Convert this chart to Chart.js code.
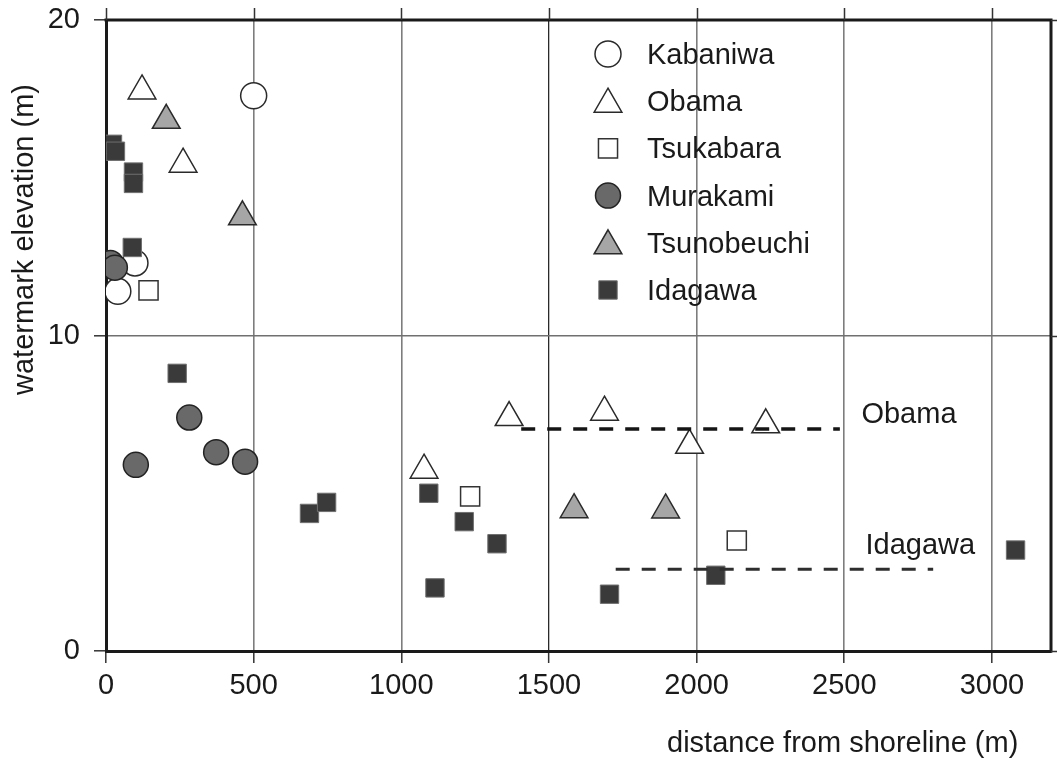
<!DOCTYPE html>
<html>
<head>
<meta charset="utf-8">
<script src="https://cdn.jsdelivr.net/npm/chart.js@4.4.1/dist/chart.umd.min.js"></script>
<style>
  html, body { margin: 0; padding: 0; background: #fff; }
</style>
</head>
<body>
<canvas id="myChart" width="1057" height="761"></canvas>
<script>
// values: x = distance from shoreline (m), y = watermark elevation (m)
var kabaniwaX = [500, 98, 40];
var kabaniwaY = [17.6, 12.3, 11.4];

var obamaX = [122, 261, 1077, 1365, 1688, 1976, 2234];
var obamaY = [17.75, 15.43, 5.73, 7.4, 7.57, 6.52, 7.17];

var tsukabaraX = [144, 1233, 2136];
var tsukabaraY = [11.43, 4.9, 3.5];

var murakamiX = [15, 30, 101, 282, 373, 471];
var murakamiY = [12.3, 12.15, 5.9, 7.4, 6.3, 6.0];

var tsunobeuchiX = [204, 462, 1585, 1895];
var tsunobeuchiY = [16.82, 13.76, 4.48, 4.47];

var idagawaX = [22, 32, 93, 93, 89, 241, 689, 747, 1093, 1213, 1324, 1114, 1705, 2065, 3080];
var idagawaY = [16.06, 15.84, 15.18, 14.82, 12.79, 8.8, 4.36, 4.71, 5.0, 4.1, 3.4, 2.0, 1.8, 2.4, 3.2];

// dashed reference levels
var obamaLevelX = [1406, 2485];
var obamaLevelY = [7.04, 7.04];
var idagawaLevelX = [1726, 2801];
var idagawaLevelY = [2.59, 2.59];

var levelLabels = ["Obama", "Idagawa"];
var levelLabelX = [2558, 2572];
var levelLabelY = [7.47, 3.32];

var xTicks = [0, 500, 1000, 1500, 2000, 2500, 3000];
var yTicks = [0, 10, 20];

var legendNames = ["Kabaniwa", "Obama", "Tsukabara", "Murakami", "Tsunobeuchi", "Idagawa"];

var FONT = "'Liberation Sans', Arial, Helvetica, sans-serif";
var INK = "#1a1a1a";

function pts(xs, ys) {
  var out = [];
  for (var i = 0; i < xs.length; i++) out.push({ x: xs[i], y: ys[i] });
  return out;
}

function markers(label, xs, ys, style, r, fill, edge, bw) {
  return {
    label: label,
    data: pts(xs, ys),
    showLine: false,
    pointStyle: style,
    pointRadius: r,
    pointHoverRadius: r,
    pointBackgroundColor: fill,
    pointBorderColor: edge,
    pointBorderWidth: bw,
    pointHoverBorderWidth: bw
  };
}

function level(label, xs, ys, color, width) {
  return {
    label: label,
    data: pts(xs, ys),
    showLine: true,
    borderColor: color,
    borderWidth: width,
    borderDash: [14, 12],
    pointRadius: 0,
    pointHoverRadius: 0,
    fill: false
  };
}

// first dataset ends up on top
var datasets = [
  level("Obama level", obamaLevelX, obamaLevelY, "#151515", 3.5),
  level("Idagawa level", idagawaLevelX, idagawaLevelY, "#2e2e2e", 3),
  markers("Idagawa", idagawaX, idagawaY, "rect", 13, "#3a3a3a", "#707070", 1),
  markers("Murakami", murakamiX, murakamiY, "circle", 12.5, "#696969", "#222", 1.5),
  markers("Tsunobeuchi", tsunobeuchiX, tsunobeuchiY, "triangle", 16, "#a6a6a6", "#2a2a2a", 1.5),
  markers("Kabaniwa", kabaniwaX, kabaniwaY, "circle", 13, "#fff", "#2a2a2a", 1.5),
  markers("Obama", obamaX, obamaY, "triangle", 16, "#fff", "#2a2a2a", 1.5),
  markers("Tsukabara", tsukabaraX, tsukabaraY, "rect", 13.5, "#fff", "#333", 1.5)
];

function drawSymbol(ctx, ds, x, y) {
  ctx.fillStyle = ds.pointBackgroundColor;
  ctx.strokeStyle = ds.pointBorderColor;
  ctx.lineWidth = ds.pointBorderWidth;
  var opts = { pointStyle: ds.pointStyle, radius: ds.pointRadius, rotation: 0, borderWidth: ds.pointBorderWidth };
  if (Chart.helpers && Chart.helpers.drawPoint) {
    Chart.helpers.drawPoint(ctx, opts, x, y);
    return;
  }
  var r = ds.pointRadius;
  ctx.beginPath();
  if (ds.pointStyle === "circle") {
    ctx.arc(x, y, r, 0, Math.PI * 2);
  } else if (ds.pointStyle === "triangle") {
    ctx.moveTo(x, y - r);
    ctx.lineTo(x + r * Math.sqrt(3) / 2, y + r / 2);
    ctx.lineTo(x - r * Math.sqrt(3) / 2, y + r / 2);
    ctx.closePath();
  } else {
    var s = r * Math.SQRT1_2;
    ctx.rect(x - s, y - s, 2 * s, 2 * s);
  }
  ctx.fill();
  ctx.stroke();
}

// legend sits inside the plot, upper right
var insideLegend = {
  id: "insideLegend",
  afterDraw: function (chart) {
    var ctx = chart.ctx;
    var a = chart.chartArea;
    var symX = a.left + 502, textX = a.left + 541, top = a.top + 34, step = 47.2;
    ctx.save();
    legendNames.forEach(function (name, i) {
      var ds = chart.data.datasets.find(function (d) { return d.label === name; });
      var y = top + i * step;
      drawSymbol(ctx, ds, symX, ds.pointStyle === "triangle" ? y + 3 : y);
      ctx.fillStyle = INK;
      ctx.font = "29px " + FONT;
      ctx.textAlign = "left";
      ctx.textBaseline = "middle";
      ctx.fillText(name, textX, y + 2);
    });
    ctx.restore();
  }
};

// top / right frame, outer ticks, level labels and axis titles
var frameAndText = {
  id: "frameAndText",
  afterDraw: function (chart) {
    var ctx = chart.ctx;
    var a = chart.chartArea;
    var xs = chart.scales.x, ys = chart.scales.y;
    ctx.save();
    ctx.strokeStyle = INK;
    ctx.lineWidth = 3;
    ctx.beginPath();
    ctx.moveTo(a.left - 1.5, a.top);
    ctx.lineTo(a.right, a.top);
    ctx.lineTo(a.right, a.bottom + 1.5);
    ctx.stroke();

    ctx.lineWidth = 1.5;
    ctx.strokeStyle = "#333";
    ctx.beginPath();
    xTicks.forEach(function (v) {
      var px = Math.round(xs.getPixelForValue(v)) + 0.5;
      ctx.moveTo(px, a.top - 12);
      ctx.lineTo(px, a.top);
    });
    yTicks.forEach(function (v) {
      var py = Math.round(ys.getPixelForValue(v)) + 0.5;
      ctx.moveTo(a.right, py);
      ctx.lineTo(a.right + 12, py);
    });
    ctx.stroke();

    ctx.fillStyle = INK;
    ctx.font = "29px " + FONT;
    ctx.textAlign = "left";
    ctx.textBaseline = "middle";
    levelLabels.forEach(function (t, i) {
      ctx.fillText(t, xs.getPixelForValue(levelLabelX[i]), ys.getPixelForValue(levelLabelY[i]));
    });

    ctx.textBaseline = "alphabetic";
    ctx.fillText("distance from shoreline (m)", a.left + 561, a.bottom + 101);

    ctx.translate(33, a.bottom - 256);
    ctx.rotate(-Math.PI / 2);
    ctx.fillText("watermark elevation (m)", 0, 0);
    ctx.restore();
  }
};

function plainNumber(v) { return String(v); }

var ctx = document.getElementById("myChart").getContext("2d");
var chart = new Chart(ctx, {
  type: "scatter",
  data: { datasets: datasets },
  options: {
    responsive: false,
    animation: false,
    layout: { autoPadding: false, padding: { top: 20, right: 6, left: 0, bottom: 0 } },
    plugins: {
      legend: { display: false },
      tooltip: { enabled: false }
    },
    scales: {
      x: {
        type: "linear",
        min: 0,
        max: 3200,
        afterBuildTicks: function (s) { s.ticks = xTicks.map(function (v) { return { value: v }; }); },
        afterFit: function (s) {
          s.height = 110;
          s.paddingLeft = 0; s.paddingRight = 0;
        },
        ticks: {
          font: { family: FONT, size: 29 },
          color: INK,
          padding: 6,
          maxRotation: 0,
          autoSkip: false,
          callback: plainNumber
        },
        grid: {
          color: function (c) {
            if (!c.tick || c.tick.value === 0) return "rgba(0,0,0,0)";
            return c.tick.value === 1500 ? "#2a2a2a" : "#7d7d7d";
          },
          lineWidth: function (c) { return c.tick && c.tick.value === 1500 ? 1.3 : 1.6; },
          tickColor: "#333",
          tickLength: 12,
          tickWidth: 1.5
        },
        border: { color: INK, width: 3 }
      },
      y: {
        type: "linear",
        min: 0,
        max: 20,
        afterBuildTicks: function (s) { s.ticks = yTicks.map(function (v) { return { value: v }; }); },
        afterFit: function (s) {
          s.width = 106;
          s.paddingTop = 0; s.paddingBottom = 0;
        },
        ticks: {
          font: { family: FONT, size: 29 },
          color: INK,
          padding: 14,
          callback: plainNumber
        },
        grid: {
          color: function (c) {
            if (!c.tick || c.tick.value === 0 || c.tick.value === 20) return "rgba(0,0,0,0)";
            return "#707070";
          },
          lineWidth: 1.6,
          tickColor: "#333",
          tickLength: 12,
          tickWidth: 1.5
        },
        border: { color: INK, width: 3 }
      }
    }
  },
  plugins: [insideLegend, frameAndText]
});
</script>
</body>
</html>
